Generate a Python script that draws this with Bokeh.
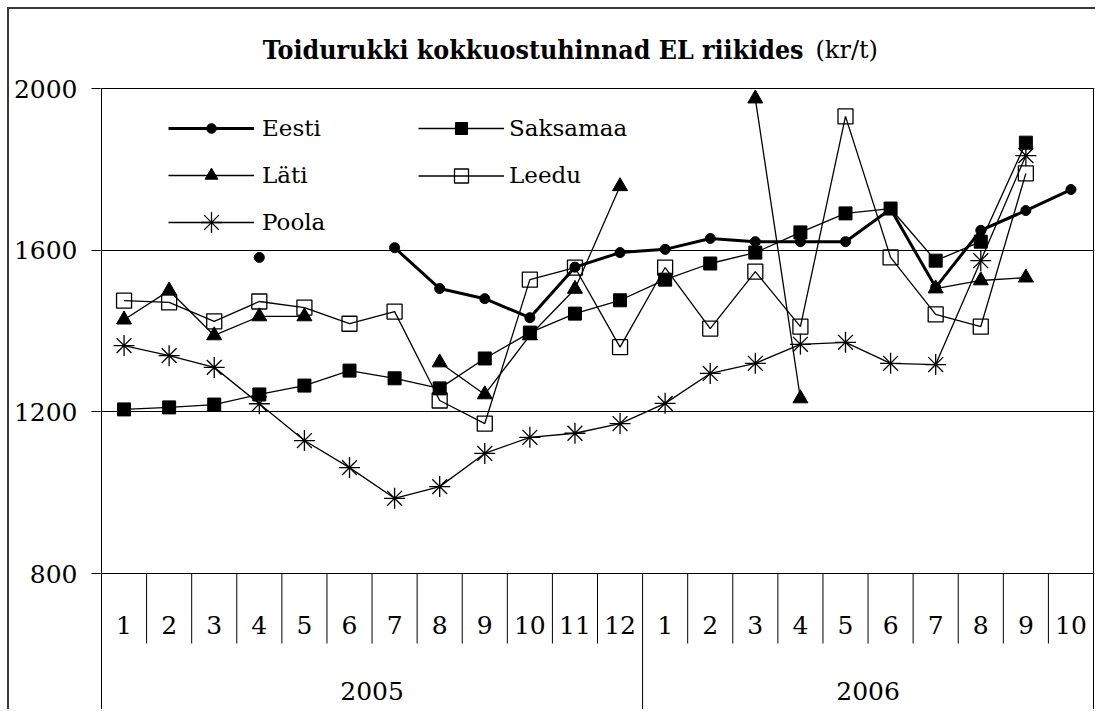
import numpy as np
from bokeh.plotting import figure
from bokeh.models import Range1d, FixedTicker, Legend, LegendItem
from bokeh.core.properties import value
from bokeh.embed import file_html
from bokeh.resources import INLINE

nan = float("nan")

# ---- data ----
years = ["2005", "2006"]
months_2005 = [str(m) for m in range(1, 13)]
months_2006 = [str(m) for m in range(1, 11)]
month_labels = months_2005 + months_2006

eesti = [nan, nan, nan, 1582, nan, nan, 1606, 1505, 1480, 1433, 1558, 1594,
         1602, 1629, 1621, 1621, 1621, 1702, 1508, 1649, 1698, 1750]
saksamaa = [1206, 1211, 1218, 1243, 1265, 1302, 1283, 1258, 1332, 1396, 1443, 1476,
            1527, 1567, 1594, 1644, 1691, 1703, 1574, 1621, 1866, nan]
lati = [1428, 1500, 1389, 1436, 1436, nan, nan, 1322, 1243, 1389, 1504, 1758,
        nan, nan, 1975, 1233, nan, nan, 1505, 1525, 1532, nan]
leedu = [1475, 1471, 1424, 1473, 1458, 1418, 1448, 1228, 1171, 1527, 1557, 1360,
         1557, 1406, 1547, 1411, 1931, 1582, 1441, 1411, 1790, nan]
poola = [1364, 1339, 1310, 1220, 1129, 1062, 986, 1015, 1097, 1137, 1147, 1171,
         1221, 1295, 1320, 1367, 1372, 1320, 1317, 1574, 1834, nan]
y_ticks = [800, 1200, 1600, 2000]
title_main = "Toidurukki kokkuostuhinnad EL riikides"
title_unit = "(kr/t)"

# ---- layout (page pixels) ----
n = len(month_labels)
xs = [i + 0.5 for i in range(n)]
PAGE_W, PAGE_H = 1097, 711
CANVAS_X0, CANVAS_Y0 = 9, 9          # after 7px margin + 2px border
FRAME_L, FRAME_R = 100, 1094
PLOT_L, PLOT_R = 101, 1093           # category span
PLOT_T, PLOT_B = 88, 573             # 2000 .. 800
W, H = PAGE_W - CANVAS_X0, PAGE_H - CANVAS_Y0

ux = n / (PLOT_R - PLOT_L)
uy = (y_ticks[-1] - y_ticks[0]) / (PLOT_B - PLOT_T)
x_start = -(PLOT_L - FRAME_L) * ux
x_end = n + (FRAME_R - PLOT_R) * ux
y_end = y_ticks[-1] + (PLOT_T - CANVAS_Y0) * uy
y_start = y_ticks[0] - (PAGE_H - PLOT_B) * uy

FONT = "DejaVu Serif"
FONT_TITLE = "DejaVu Serif Condensed"

p = figure(width=W, height=H, x_range=Range1d(x_start, x_end), y_range=Range1d(y_start, y_end),
           x_axis_location=None, output_backend="svg", toolbar_location=None,
           min_border_left=FRAME_L - CANVAS_X0, min_border_right=PAGE_W - FRAME_R,
           min_border_top=0, min_border_bottom=0)
p.extra_x_ranges = {"px": Range1d(FRAME_L, FRAME_R)}
p.extra_y_ranges = {"py": Range1d(PAGE_H, CANVAS_Y0)}
p.outline_line_color = None
p.background_fill_color = "white"
p.border_fill_color = "white"
p.styles = {"margin-left": "7px", "margin-top": "7px",
            "border-left": "2px solid #3a3a3a", "border-top": "2px solid #3a3a3a"}

ax = p.yaxis[0]
ax.ticker = FixedTicker(ticks=y_ticks)
ax.minor_tick_line_color = None
ax.major_tick_in = 0
ax.major_tick_out = 9
ax.major_tick_line_color = "black"
ax.axis_line_color = None
ax.major_label_standoff = 14
ax.major_label_text_font = FONT
ax.major_label_text_font_size = "25px"
ax.major_label_text_color = "black"

p.ygrid.ticker = FixedTicker(ticks=y_ticks)
p.ygrid.grid_line_color = "black"
p.ygrid.grid_line_width = 1
p.xgrid.grid_line_color = None

# left axis line and right border of the plot area
p.segment(x0=[0, n], x1=[0, n], y0=[y_ticks[-1]] * 2, y1=[y_start] * 2,
          line_color="black", line_width=1)

# ---- category axis area ----
year_break = len(months_2005)
bounds = list(range(1, n))
p.segment(x0=bounds, x1=bounds, y0=[PLOT_B] * len(bounds),
          y1=[PAGE_H if b == year_break else 643 for b in bounds],
          y_range_name="py", line_color="black", line_width=1)
p.text(x=xs, y=[624] * n, text=month_labels, y_range_name="py",
       text_font=value(FONT), text_font_size="25px", text_color="black",
       text_align="center", text_baseline="middle")
year_x = [len(months_2005) / 2, len(months_2005) + len(months_2006) / 2]
p.text(x=year_x, y=[690] * 2, text=years, y_range_name="py",
       text_font=value(FONT), text_font_size="25px", text_color="black",
       text_align="center", text_baseline="middle")

# ---- title ----
p.text(x=[803], y=[49], text=[title_main], x_range_name="px", y_range_name="py",
       text_font=value(FONT_TITLE), text_font_style="bold", text_font_size="26.5px",
       text_color="black", text_align="right", text_baseline="alphabetic")
p.text(x=[815], y=[49], text=[title_unit], x_range_name="px", y_range_name="py",
       text_font=value(FONT), text_font_size="24px",
       text_color="black", text_align="left", text_baseline="alphabetic")

# ---- series ----
thin = 1.3
r_po_l = p.line(xs, poola, line_color="black", line_width=thin)
r_po_s = p.scatter(xs, poola, marker="asterisk", size=21, line_color="black", line_width=1.3)
r_le_l = p.line(xs, leedu, line_color="black", line_width=thin)
r_le_s = p.scatter(xs, leedu, marker="square", size=15, line_color="black",
                   fill_color=None, line_width=1.3)
r_la_l = p.line(xs, lati, line_color="black", line_width=thin)
r_la_s = p.scatter(xs, lati, marker="triangle", size=15, line_color="black", fill_color="black")
r_sa_l = p.line(xs, saksamaa, line_color="black", line_width=thin)
r_sa_s = p.scatter(xs, saksamaa, marker="square", size=13, line_color="black", fill_color="black")
r_ee_l = p.line(xs, eesti, line_color="black", line_width=3)
r_ee_s = p.scatter(xs, eesti, marker="circle", size=10, line_color="black", fill_color="black")

ROW_H = 52
def add_legend(label, renderers, gx, cy, gh, standoff):
    lg = Legend(items=[LegendItem(label=label, renderers=renderers)],
                location=(gx - FRAME_L, PAGE_H - cy - ROW_H // 2))
    lg.border_line_color = None
    lg.background_fill_alpha = 0
    lg.padding = 0
    lg.margin = 0
    lg.spacing = 0
    lg.glyph_width = 86
    lg.glyph_height = gh
    lg.label_height = ROW_H
    lg.label_standoff = standoff
    lg.label_text_font = FONT
    lg.label_text_font_size = "23px"
    lg.label_text_color = "black"
    p.add_layout(lg)

add_legend("Eesti", [r_ee_l, r_ee_s], 168, 128, 24, 8)
add_legend("Läti", [r_la_l, r_la_s], 168, 175, 32, 8)
add_legend("Poola", [r_po_l, r_po_s], 168, 222, 52, 8)
add_legend("Saksamaa", [r_sa_l, r_sa_s], 418, 128, 30, 5)
add_legend("Leedu", [r_le_l, r_le_s], 418, 175, 35, 5)

open("out.html", "w").write(file_html(p, INLINE))
